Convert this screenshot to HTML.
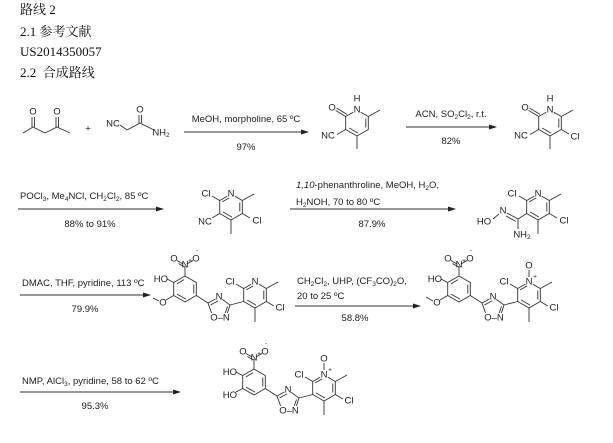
<!DOCTYPE html>
<html><head><meta charset="utf-8"><style>
body{margin:0;background:#fff;width:613px;height:443px;overflow:hidden}
svg{position:absolute;left:0;top:0}
.h{font-family:"Liberation Serif","Noto Serif CJK SC",serif;font-size:13px;fill:#111}
.r{font-family:"Liberation Sans",sans-serif;font-size:9.5px;fill:#222}
.a{font-family:"Liberation Sans",sans-serif;font-size:9.5px;fill:#222;dominant-baseline:central;text-anchor:middle}
.s{font-size:6.5px}
line,polyline,polygon{stroke:#333;stroke-width:0.9;fill:none}
.bg{fill:#fff;stroke:none}
</style></head><body>
<svg width="613" height="443" viewBox="0 0 613 443">
<defs>
<marker id="ah" markerWidth="8" markerHeight="6" refX="7" refY="3" orient="auto" markerUnits="userSpaceOnUse"><path d="M0,0.5 L8,3 L0,5.5z" fill="#222"/></marker>
<g id="pyr">
<polygon points="0,-13 11.3,-6.5 11.3,6.5 0,13 -11.3,6.5 -11.3,-6.5"/>
<line x1="8.8" y1="-4.5" x2="8.8" y2="4.5"/>
<line x1="1" y1="10.1" x2="-7.8" y2="5"/>
<line x1="-8.8" y1="-5.1" x2="-1" y2="-9.6"/>
</g>
<g id="pyd">
<polygon points="0,-13 11.3,-6.5 11.3,6.5 0,13 -11.3,6.5 -11.3,-6.5"/>
<line x1="8.8" y1="-4.5" x2="8.8" y2="4.5"/>
<line x1="1" y1="10.1" x2="-7.8" y2="5"/>
<line x1="-11.3" y1="-6.5" x2="-22" y2="-13"/>
<line x1="-10" y1="-8.6" x2="-20.5" y2="-15"/>
<line x1="11.3" y1="-6.5" x2="23" y2="-13"/>
<line x1="-11.3" y1="6.5" x2="-20" y2="11.5"/>
<line x1="0" y1="13" x2="0" y2="26"/>
<circle class="bg" cx="0" cy="-13" r="4.5"/>
<text class="a" x="0" y="-13">N</text>
<text class="a" x="0" y="-24">H</text>
<circle class="bg" cx="-25" cy="-15" r="4.5"/>
<text class="a" x="-25" y="-15">O</text>
<text class="a" x="-29" y="13" text-anchor="middle">NC</text>
</g>
<g id="core">
<polygon points="185,276 196.3,282.5 196.3,295.5 185,302 173.7,295.5 173.7,282.5"/>
<line x1="193.8" y1="284.5" x2="193.8" y2="293.5"/>
<line x1="186" y1="299.1" x2="177" y2="294.1"/>
<line x1="177" y1="283.9" x2="184" y2="279.6"/>
<line x1="185" y1="276" x2="185" y2="266"/>
<line x1="183" y1="264" x2="177" y2="260.5"/>
<line x1="184.5" y1="267" x2="178.5" y2="263.5"/>
<line x1="187" y1="264" x2="193" y2="260.5"/>
<text class="a" x="185" y="265">N</text>
<text class="a s" x="190" y="261">+</text>
<text class="a" x="174" y="259">O</text>
<text class="a" x="196" y="259">O</text>
<text class="a s" x="197" y="251">-</text>
<line x1="173.7" y1="282.5" x2="167" y2="279"/>
<text class="r" x="168" y="282" text-anchor="end">HO</text>
<line x1="196.3" y1="295.5" x2="208" y2="303"/>
<polygon points="208,303 219,297 230,305 226,317 213,317"/>
<line x1="210.5" y1="305" x2="218.5" y2="300.5"/>
<line x1="227.5" y1="306.5" x2="224.5" y2="315"/>
<circle class="bg" cx="219" cy="297" r="4"/>
<text class="a" x="219" y="297">N</text>
<rect class="bg" x="209" y="313" width="22" height="9"/>
<text class="a" x="220" y="318">O–N</text>
<line x1="230" y1="305" x2="243.7" y2="301.5"/>
<use href="#pyr" x="255" y="295"/>
<line x1="243.7" y1="288.5" x2="236" y2="284"/>
<text class="a" x="230" y="282">Cl</text>
<line x1="266.3" y1="288.5" x2="278" y2="282"/>
<line x1="266.3" y1="301.5" x2="274" y2="306"/>
<text class="a" x="280" y="308">Cl</text>
<line x1="255" y1="308" x2="255" y2="322"/>
<circle class="bg" cx="255" cy="282" r="4.5"/>
<text class="a" x="255" y="282">N</text>
</g>
</defs>

<text class="h" x="20" y="14">路线 2</text>
<text class="h" x="20" y="36">2.1 参考文献</text>
<text class="h" x="20" y="56">US2014350057</text>
<text class="h" x="20" y="77">2.2&#160; 合成路线</text>

<!-- row 1 -->
<polyline points="23,133 33,127 45,133 57,127 70,133"/>
<line x1="32" y1="127" x2="32" y2="117"/><line x1="34.5" y1="127" x2="34.5" y2="117"/>
<line x1="56" y1="127" x2="56" y2="117"/><line x1="58.5" y1="127" x2="58.5" y2="117"/>
<text class="a" x="33" y="112">O</text><text class="a" x="57" y="112">O</text>
<text class="a" x="88" y="129">+</text>
<text class="a" x="113" y="124">NC</text>
<polyline points="120,125 127,130 140,123 154,130"/>
<line x1="139" y1="123" x2="139" y2="115"/><line x1="141.5" y1="123" x2="141.5" y2="115"/>
<text class="a" x="140" y="110">O</text>
<text class="a" x="161" y="133">NH<tspan class="s" dy="2">2</tspan></text>

<line x1="184" y1="132" x2="308" y2="132" marker-end="url(#ah)"/>
<text class="r" x="246" y="122" text-anchor="middle">MeOH, morpholine, 65 ºC</text>
<text class="r" x="246" y="150" text-anchor="middle">97%</text>
<use href="#pyd" x="357" y="123"/>

<line x1="406" y1="127" x2="496" y2="127" marker-end="url(#ah)"/>
<text class="r" x="451" y="117" text-anchor="middle">ACN, SO<tspan class="s" dy="2">2</tspan><tspan dy="-2">Cl</tspan><tspan class="s" dy="2">2</tspan><tspan dy="-2">, r.t.</tspan></text>
<text class="r" x="451" y="144" text-anchor="middle">82%</text>
<use href="#pyd" x="550" y="123"/>
<line x1="561.3" y1="129.5" x2="569" y2="134"/>
<text class="a" x="575" y="137">Cl</text>

<!-- row 2 -->
<line x1="18" y1="209" x2="163" y2="209" marker-end="url(#ah)"/>
<text class="r" x="20" y="199">POCl<tspan class="s" dy="2">3</tspan><tspan dy="-2">, Me</tspan><tspan class="s" dy="2">4</tspan><tspan dy="-2">NCl, CH</tspan><tspan class="s" dy="2">2</tspan><tspan dy="-2">Cl</tspan><tspan class="s" dy="2">2</tspan><tspan dy="-2">, 85 ºC</tspan></text>
<text class="r" x="90" y="227" text-anchor="middle">88% to 91%</text>
<use href="#pyr" x="231" y="207"/>
<line x1="219.7" y1="200.5" x2="212" y2="196"/><text class="a" x="206" y="194">Cl</text>
<line x1="242.3" y1="200.5" x2="254" y2="194"/>
<line x1="242.3" y1="213.5" x2="250" y2="218"/><text class="a" x="257" y="221">Cl</text>
<line x1="231" y1="220" x2="231" y2="234"/>
<line x1="219.7" y1="213.5" x2="212" y2="218"/><text class="a" x="205" y="222">NC</text>
<circle class="bg" cx="231" cy="194" r="4.5"/><text class="a" x="231" y="194">N</text>

<line x1="290" y1="209" x2="455" y2="209" marker-end="url(#ah)"/>
<text class="r" x="296" y="188"><tspan font-style="italic">1,10</tspan>-phenanthroline, MeOH, H<tspan class="s" dy="2">2</tspan><tspan dy="-2">O,</tspan></text>
<text class="r" x="296" y="205">H<tspan class="s" dy="2">2</tspan><tspan dy="-2">NOH, 70 to 80 ºC</tspan></text>
<text class="r" x="372" y="227" text-anchor="middle">87.9%</text>
<use href="#pyr" x="538" y="207"/>
<line x1="526.7" y1="200.5" x2="519" y2="196"/><text class="a" x="512" y="194">Cl</text>
<line x1="549.3" y1="200.5" x2="561" y2="194"/>
<line x1="549.3" y1="213.5" x2="557" y2="218"/><text class="a" x="564" y="221">Cl</text>
<line x1="538" y1="220" x2="538" y2="234"/>
<line x1="526.7" y1="213.5" x2="518" y2="219"/>
<line x1="518" y1="219" x2="507" y2="213"/><line x1="516" y1="221.5" x2="506" y2="216"/>
<line x1="499" y1="214" x2="493" y2="219"/>
<text class="a" x="503" y="211">N</text>
<text class="a" x="484" y="222">HO</text>
<line x1="518" y1="219" x2="518" y2="229"/>
<text class="a" x="522" y="235">NH<tspan class="s" dy="2">2</tspan></text>
<circle class="bg" cx="538" cy="194" r="4.5"/><text class="a" x="538" y="194">N</text>

<!-- row 3 -->
<line x1="20" y1="295" x2="150" y2="295" marker-end="url(#ah)"/>
<text class="r" x="22" y="286">DMAC, THF, pyridine, 113 ºC</text>
<text class="r" x="85" y="312" text-anchor="middle">79.9%</text>
<use href="#core"/>
<line x1="173.7" y1="295.5" x2="166" y2="300"/>
<text class="a" x="163" y="303">O</text>
<line x1="159" y1="301" x2="153" y2="298"/>

<line x1="295" y1="306" x2="420" y2="306" marker-end="url(#ah)"/>
<text class="r" x="297" y="284">CH<tspan class="s" dy="2">2</tspan><tspan dy="-2">Cl</tspan><tspan class="s" dy="2">2</tspan><tspan dy="-2">, UHP, (CF</tspan><tspan class="s" dy="2">3</tspan><tspan dy="-2">CO)</tspan><tspan class="s" dy="2">2</tspan><tspan dy="-2">O,</tspan></text>
<text class="r" x="297" y="299">20 to 25 ºC</text>
<text class="r" x="355" y="321" text-anchor="middle">58.8%</text>
<g transform="translate(274,0)">
<use href="#core"/>
<line x1="173.7" y1="295.5" x2="166" y2="300"/>
<text class="a" x="163" y="303">O</text>
<line x1="159" y1="301" x2="152" y2="297"/>
<line x1="255" y1="277" x2="255" y2="270"/>
<text class="a" x="255" y="266">O</text>
<text class="a s" x="261" y="277">+</text>
</g>

<!-- row 4 -->
<line x1="20" y1="392" x2="180" y2="392" marker-end="url(#ah)"/>
<text class="r" x="22" y="384">NMP, AlCl<tspan class="s" dy="2">3</tspan><tspan dy="-2">, pyridine, 58 to 62 ºC</tspan></text>
<text class="r" x="95" y="409" text-anchor="middle">95.3%</text>
<g transform="translate(69,93)">
<use href="#core"/>
<line x1="173.7" y1="295.5" x2="167" y2="299"/>
<text class="r" x="168" y="305" text-anchor="end">HO</text>
<line x1="255" y1="277" x2="255" y2="270"/>
<text class="a" x="255" y="266">O</text>
<text class="a s" x="261" y="277">+</text>
</g>
</svg>
</body></html>
